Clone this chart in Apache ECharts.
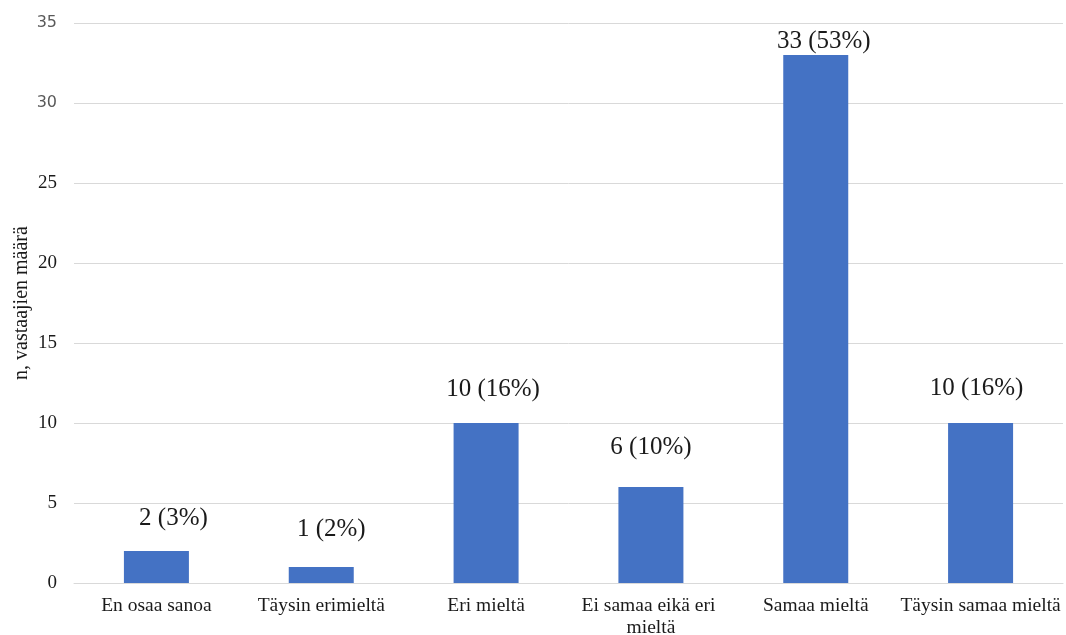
<!DOCTYPE html>
<html>
<head>
<meta charset="utf-8">
<script src="https://cdn.jsdelivr.net/npm/echarts@6/dist/echarts.min.js"></script>
<style>
  html, body { margin: 0; padding: 0; background: #fff; }
  #chart { width: 1066px; height: 635px; }
</style>
</head>
<body>
<div id="chart"></div>
<script>
// Vastausvaihtoehdot ja vastaajien määrät
const categories = ['En osaa sanoa', 'Täysin erimieltä', 'Eri mieltä', 'Ei samaa eikä eri mieltä', 'Samaa mieltä', 'Täysin samaa mieltä'];
const counts = [2, 1, 10, 6, 33, 10];
const yTicks = { min: 0, max: 35, interval: 5 };
const yAxisTitle = 'n, vastaajien määrä';

const total = counts.reduce((a, b) => a + b, 0);

// Label placement tweaks per bar (dx, dy in px from the default top position)
const labelOffsets = [[17, -16], [10, -21], [7, -17], [0, -23], [8, 3], [-4, -18]];

const serif = '"Liberation Serif", "Times New Roman", serif';

const chart = echarts.init(document.getElementById('chart'), null, { renderer: 'canvas' });

chart.setOption({
  animation: false,
  backgroundColor: '#ffffff',
  grid: { left: 74, right: 3, top: 23, bottom: 52, containLabel: false, outerBoundsMode: 'none' },
  xAxis: {
    type: 'category',
    data: categories,
    axisLine: { lineStyle: { color: '#d9d9d9', width: 1 } },
    axisTick: { show: false },
    axisLabel: {
      interval: 0,
      margin: 12,
      color: '#1a1a1a',
      fontFamily: serif,
      fontSize: 19.5,
      lineHeight: 22,
      width: 185,
      overflow: 'break'
    }
  },
  yAxis: {
    type: 'value',
    min: yTicks.min,
    max: yTicks.max,
    interval: yTicks.interval,
    name: yAxisTitle,
    nameLocation: 'middle',
    nameGap: 42,
    nameRotate: 90,
    nameMoveOverlap: false,
    nameTextStyle: { color: '#1a1a1a', fontFamily: serif, fontSize: 20 },
    axisLine: { show: false },
    axisTick: { show: false },
    splitLine: { lineStyle: { color: '#d9d9d9', width: 1 } },
    axisLabel: {
      margin: 17,
      formatter: v => (v >= 30 ? '{s|' + v + '}' : '{r|' + v + '}'),
      rich: {
        r: { color: '#1a1a1a', fontFamily: serif, fontSize: 19 },
        s: { color: '#595959', fontFamily: '"DejaVu Sans", sans-serif', fontSize: 16 }
      }
    }
  },
  series: [{
    type: 'bar',
    barWidth: 65,
    itemStyle: { color: '#4472C4' },
    data: counts.map((v, i) => ({
      value: v,
      label: { offset: labelOffsets[i] }
    })),
    label: {
      show: true,
      position: 'top',
      distance: 4,
      color: '#1a1a1a',
      fontFamily: serif,
      fontSize: 25,
      formatter: p => p.value + ' (' + Math.round(p.value / total * 100) + '%)'
    }
  }]
});
</script>
</body>
</html>
